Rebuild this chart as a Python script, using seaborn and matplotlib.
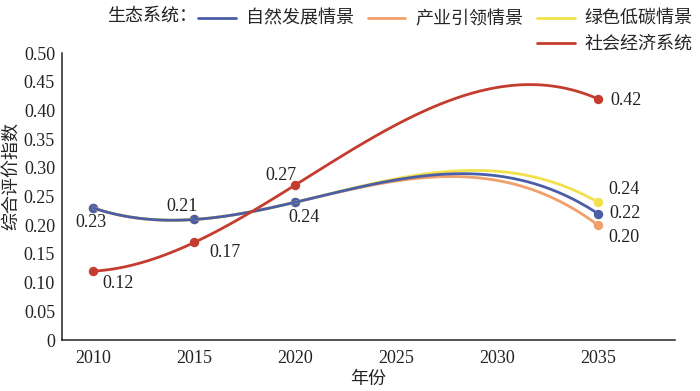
import numpy as np
import pandas as pd
import matplotlib
matplotlib.use("Agg")
import matplotlib.pyplot as plt
import seaborn as sns
from matplotlib.lines import Line2D

# data
years = [2010, 2015, 2020, 2035]
natural = [0.23, 0.21, 0.24, 0.22]
industry = [0.23, 0.21, 0.24, 0.20]
green = [0.23, 0.21, 0.24, 0.24]
social = [0.12, 0.17, 0.27, 0.42]

series_names = ["自然发展情景", "产业引领情景", "绿色低碳情景", "社会经济系统"]
ytick_vals = [0, 0.05, 0.10, 0.15, 0.20, 0.25, 0.30, 0.35, 0.40, 0.45, 0.50]
ytick_labels = ["0", "0.05", "0.10", "0.15", "0.20", "0.25", "0.30", "0.35", "0.40", "0.45", "0.50"]
xtick_vals = [2010, 2015, 2020, 2025, 2030, 2035]

colors = {"自然发展情景": "#4a5ea8", "产业引领情景": "#f0a06a",
          "绿色低碳情景": "#f2e14a", "社会经济系统": "#c43c2e"}

sns.set_style("white")
plt.rcParams['font.family'] = ['Liberation Serif', 'Noto Sans CJK SC']
plt.rcParams['axes.unicode_minus'] = False

fig = plt.figure(figsize=(7, 3.91), dpi=100)
ax = fig.add_axes([0.0886, 0.1304, 0.8754, 0.7340])

df = pd.DataFrame({"year": years, "自然发展情景": natural, "产业引领情景": industry,
                   "绿色低碳情景": green, "社会经济系统": social})

# draw order: orange, yellow under blue, red on top
for name in ["产业引领情景", "绿色低碳情景", "自然发展情景", "社会经济系统"]:
    sns.regplot(data=df, x="year", y=name, order=3, ci=None, ax=ax,
                color=colors[name], scatter_kws={"s": 46, "linewidths": 0, "alpha": 1},
                line_kws={"lw": 2.0})

# value labels (offsets in pixels)
labels = [
    (2010, natural[0], (-2, -15)), (2015, natural[1], (-12, 13)),
    (2020, natural[2], (9, -15)), (2035, natural[3], (27, 0)),
    (2010, social[0], (25, -12)), (2015, social[1], (31, -10)),
    (2020, social[2], (-14, 10)), (2035, social[3], (28, -2)),
    (2035, green[3], (26, 13)), (2035, industry[3], (26, -12)),
]
for x, y, off in labels:
    ax.annotate(f"{y:.2f}", (x, y), xytext=off, textcoords="offset pixels",
                ha="center", va="center", fontsize=13, color="#222222")

ax.set_xlim(2008.45, 2038.8)
ax.set_ylim(0, 0.5)
ax.set_xticks(xtick_vals)
ax.set_yticks(ytick_vals)
ax.set_yticklabels(ytick_labels)
ax.tick_params(direction="in", length=4, width=1, labelsize=13, colors="#222222")
ax.tick_params(axis="x", pad=7)
ax.tick_params(axis="y", pad=5)
for s in ["top", "right"]:
    ax.spines[s].set_visible(False)
for s in ["left", "bottom"]:
    ax.spines[s].set_color("#222222")
    ax.spines[s].set_linewidth(1.1)

ax.set_xlabel("年份", fontsize=13, labelpad=3, color="#222222")
ax.set_ylabel("综合评价指数", fontsize=13, color="#222222")
ax.yaxis.set_label_coords(-0.069, 0.57)

# legend: blanks so the 4th entry sits under the 3rd column
blank = Line2D([], [], color="none")
h = {n: Line2D([], [], color=colors[n], lw=2.0) for n in series_names}
handles = [h["自然发展情景"], blank, h["产业引领情景"], blank, h["绿色低碳情景"], h["社会经济系统"]]
texts = ["自然发展情景", "", "产业引领情景", "", "绿色低碳情景", "社会经济系统"]
fig.legend(handles, texts, ncol=3, loc="upper left", bbox_to_anchor=(0.265, 1.005),
           frameon=False, fontsize=13, handlelength=2.1, handletextpad=0.55,
           columnspacing=0.75, labelspacing=0.45, borderpad=0.2)
fig.text(107 / 700, 1 - 16.5 / 391, "生态系统：", fontsize=13, va="center", ha="left",
         color="#222222")

fig.savefig("out.png", dpi=100)
